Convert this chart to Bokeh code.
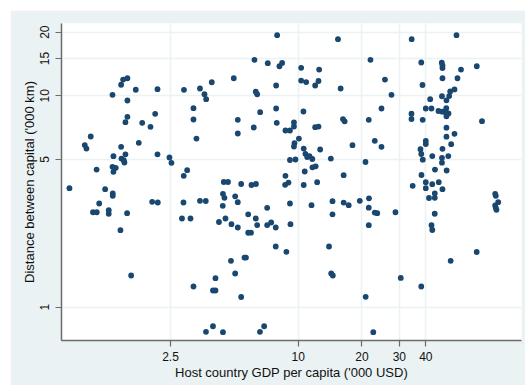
from bokeh.plotting import figure
from bokeh.models import Range1d, FixedTicker, ColumnDataSource
from bokeh.embed import file_html
from bokeh.resources import INLINE

gdp = [0.834, 0.985, 1.003, 1.051, 1.077, 1.122, 1.12, 1.152, 1.229, 1.278, 1.278, 1.331, 1.335, 1.335, 1.345, 1.331, 1.379, 1.345, 1.462, 1.494, 1.565, 1.565, 1.462, 1.467, 1.504, 1.515, 1.532, 1.532, 1.565, 1.560, 1.451, 1.630, 1.714, 1.771, 1.838, 2.011, 2.048, 2.116, 2.170, 2.170, 2.177, 2.471,
       2.525, 2.893, 2.831, 2.886, 2.995, 2.877, 3.105, 3.208, 3.208, 3.208, 3.313, 3.442, 3.442, 3.666, 3.615, 3.681, 3.674, 3.913, 3.964, 3.964, 4.073, 4.073, 4.231, 4.418, 4.418, 4.491, 4.409, 4.457, 4.666, 4.540, 4.820, 4.846, 4.969, 5.045, 5.045, 5.19, 5.19, 5.19, 5.19, 5.385, 5.385, 5.581, 5.672, 5.811, 5.811, 5.99, 6.022, 6.323, 6.174, 6.221, 6.310, 6.407, 6.31, 6.407, 6.618, 6.604, 6.912, 7.188, 7.141, 7.141, 7.458, 7.839, 7.839, 7.872, 7.872, 7.926, 7.96, 8.16, 8.40, 8.71, 9.148, 8.71, 8.68, 9.0, 8.80, 9.148, 9.148, 9.198,
       9.554, 9.554, 9.71, 10.08, 9.606, 9.554, 10.33, 10.33, 10.91, 10.59, 10.62, 10.82, 11.03, 11.31, 11.66, 10.74, 10.62, 11.56, 11.68, 12.09, 12.29, 12.03, 12.03, 12.47, 12.47, 12.56, 12.70, 13.98, 14.26, 14.32, 14.57, 14.52, 14.52, 15.41, 15.86, 16.27, 16.57, 16.39, 16.39, 17.31, 18.04, 19.53, 20.78, 20.82, 21.53, 21.58, 21.53, 21.53, 21.93, 22.61, 22.98, 22.98, 23.61, 24.72, 24.72, 25.67, 27.55, 28.77, 30.48,
       34.31, 34.24, 34.24, 34.69, 38.08, 38.58, 38.66, 37.75, 38.08, 38.70, 38.16, 38.08, 40.0, 42.55, 41.95, 40.0, 40.0, 40.0, 40.0, 41.41, 42.92, 42.9, 42.55, 42.92, 44.10, 44.10, 44.07, 44.19, 46.05, 45.9, 47.58, 47.94, 47.94, 47.94, 47.68, 47.85, 47.94, 47.68, 47.68, 47.94, 50.05, 49.95, 49.79, 51.17, 50.05, 50.05, 50.05, 50.16, 51.57, 52.13, 54.62, 51.07, 52.70, 52.41, 54.62, 55.82, 56.43, 58.62, 69.59, 69.52, 73.64, 84.98, 85.54, 87.79, 84.98, 85.54, 86.17]

distance = [3.656, 5.85, 5.63, 6.42, 2.814, 2.814, 4.48, 3.095, 3.616, 2.876, 2.766, 10.11, 3.450, 3.365, 5.18, 4.615, 4.565, 4.37, 11.28, 11.94, 12.11, 9.50, 5.74, 5.05, 4.96, 4.837, 5.29, 7.50, 7.956, 2.784, 2.314, 1.413, 10.68, 5.993, 7.452, 7.134, 3.152, 8.22, 10.75, 5.29, 3.128, 5.107,
            4.821, 10.68, 2.628, 4.184, 4.448, 3.128, 2.628, 8.736, 7.725, 1.253, 6.28, 10.83, 3.186, 3.180, 10.17, 9.636, 0.765, 11.59, 0.813, 1.200, 1.200, 1.372, 2.530, 0.762, 3.439, 3.293, 3.018, 3.911, 3.911, 2.628, 1.658, 2.470, 12.11, 3.347, 1.444, 7.70, 6.633, 3.138, 2.383, 3.827, 1.118, 1.718, 1.718, 2.751, 2.251, 2.251, 3.786, 3.827, 7.08, 14.80, 10.45, 10.17, 2.628, 2.448, 8.364, 0.765, 0.813, 14.26, 2.953, 2.448, 2.516, 2.383, 1.937, 11.19, 8.707, 7.452, 19.35, 13.80, 14.30, 6.853, 6.853, 4.184, 3.794, 3.889, 1.829, 4.970, 3.095, 2.470,
            7.477, 7.157, 4.997, 6.28, 5.98, 5.757, 13.56, 11.81, 11.62, 8.427, 5.63, 5.317, 5.135, 5.19, 5.024, 4.385, 3.786, 3.038, 4.59, 4.64, 3.902, 11.19, 7.103, 7.157, 11.75, 13.31, 5.572, 1.937, 5.05, 1.444, 1.413, 3.173, 2.751, 18.53, 10.83, 7.766, 7.574, 4.212, 3.128, 3.038, 5.839, 3.186, 4.863, 1.12, 7.70, 3.275, 2.956, 2.443, 14.80, 0.762, 6.125, 2.805, 2.784, 8.707, 5.74, 11.94, 10.11, 2.814, 1.375,
            18.53, 8.229, 7.766, 3.753, 14.37, 11.25, 7.70, 5.59, 5.305, 4.986, 4.221, 1.253, 8.707, 8.707, 9.636, 6.125, 5.916, 3.902, 3.656, 3.286, 5.19, 3.819, 2.443, 2.319, 3.458, 3.293, 2.768, 4.48, 3.902, 8.473, 14.34, 13.91, 13.53, 12.11, 9.953, 8.41, 5.614, 5.09, 4.827, 3.616, 9.52, 8.736, 8.309, 8.248, 8.0, 7.065, 6.406, 4.433, 9.975, 10.48, 10.72, 5.19, 5.903, 1.658, 6.611, 19.35, 12.11, 13.31, 13.80, 1.825, 7.583, 3.439, 3.365, 3.138, 3.028, 2.954, 2.889]

x_ticks = [2.5, 10, 20, 30, 40]
x_tick_labels = ["2.5", "10", "20", "30", "40"]
y_ticks = [1, 5, 10, 15, 20]
y_tick_labels = ["1", "5", "10", "15", "20"]

BG = "#eaf2f3"
NAVY = "#1a476f"
FONT = "Liberation Sans"

p = figure(width=515, height=375, x_axis_type="log", y_axis_type="log",
           x_range=Range1d(0.765, 113.1), y_range=Range1d(0.696, 21.98),
           output_backend="svg", toolbar_location=None,
           min_border_left=51, min_border_top=13, min_border_right=4, min_border_bottom=45)
p.margin = (10, 0, 0, 10)
p.border_fill_color = BG
p.background_fill_color = "white"
p.outline_line_color = None

src = ColumnDataSource(dict(x=gdp, y=distance))
p.scatter("x", "y", source=src, size=5.8, fill_color=NAVY, line_color=None)

p.xaxis.ticker = FixedTicker(ticks=x_ticks, minor_ticks=[])
p.yaxis.ticker = FixedTicker(ticks=y_ticks, minor_ticks=[])
p.xaxis.major_label_overrides = {t: l for t, l in zip(x_ticks, x_tick_labels)}
p.yaxis.major_label_overrides = {t: l for t, l in zip(y_ticks, y_tick_labels)}
p.xgrid.ticker = FixedTicker(ticks=x_ticks, minor_ticks=[])
p.ygrid.ticker = FixedTicker(ticks=y_ticks, minor_ticks=[])
for g in (p.xgrid, p.ygrid):
    g.grid_line_color = BG
    g.grid_line_width = 1.5

p.xaxis.axis_label = "Host country GDP per capita ('000 USD)"
p.yaxis.axis_label = "Distance between capital ('000 km)"
p.yaxis.major_label_orientation = "vertical"
for ax in (p.xaxis, p.yaxis):
    ax.axis_line_color = "#6b6b6b"
    ax.axis_line_width = 1.5
    ax.major_tick_line_color = "#6b6b6b"
    ax.major_tick_line_width = 1.2
    ax.major_tick_out = 6
    ax.major_tick_in = 0
    ax.minor_tick_out = 0
    ax.minor_tick_in = 0
    ax.major_label_text_font = FONT
    ax.major_label_text_font_size = "12px"
    ax.major_label_text_color = "#111111"
    ax.axis_label_text_font = FONT
    ax.axis_label_text_font_size = "13px"
    ax.axis_label_text_font_style = "normal"
    ax.axis_label_text_color = "#111111"
    ax.axis_label_standoff = 1
p.xaxis.major_label_standoff = 5
p.yaxis.major_label_standoff = 6

open("out.html", "w").write(file_html(p, INLINE))
